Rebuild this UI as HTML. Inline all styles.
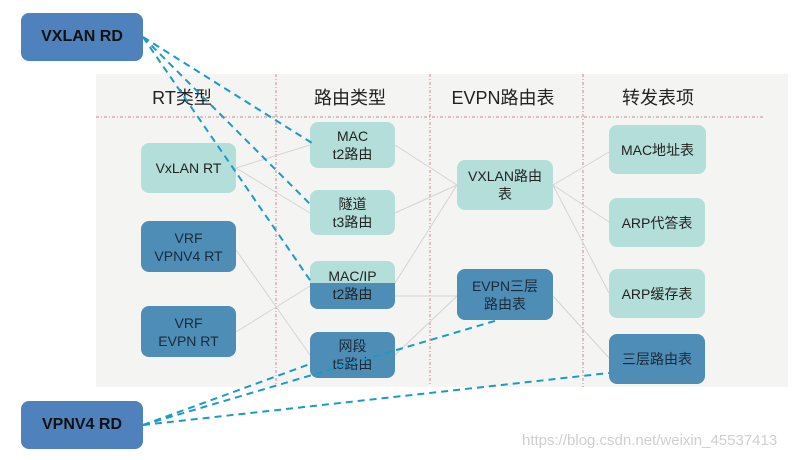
<!DOCTYPE html>
<html><head><meta charset="utf-8"><style>
body{margin:0;width:802px;height:460px;background:#fff;position:relative;overflow:hidden;font-family:"Liberation Sans","Noto Sans CJK SC",sans-serif}
.p{position:absolute;left:96px;top:74px;width:692px;height:313px;background:#f4f4f3}
.n{position:absolute;border-radius:8px;display:flex;align-items:center;justify-content:center;text-align:center;font-size:14px;line-height:18px;color:#222}
.l{background:#b4ded9}
.d{background:#4e8db5;color:#1a2a3a}
.h{position:absolute;top:84px;font-size:18px;color:#222;text-align:center;width:150px}
.rd{position:absolute;left:21px;width:122px;height:48px;border-radius:8px;background:#4f81bd;font-weight:bold;font-size:16px;color:#111;display:flex;align-items:center;justify-content:center}
</style></head><body>
<div class="p"></div>
<div class="h" style="left:107px">RT类型</div>
<div class="h" style="left:275px">路由类型</div>
<div class="h" style="left:428px">EVPN路由表</div>
<div class="h" style="left:583px">转发表项</div>
<svg style="position:absolute;left:0;top:0" width="802" height="460">
<g stroke="#c88" stroke-width="1" stroke-dasharray="3,2,1,2">
<line x1="96" y1="117" x2="765" y2="117"/>
<line x1="276" y1="74" x2="276" y2="385"/>
<line x1="430" y1="74" x2="430" y2="385"/>
<line x1="583" y1="74" x2="583" y2="387"/>
</g>
<g stroke="#d4d4d4" stroke-width="1">
<line x1="236" y1="168" x2="310" y2="145"/>
<line x1="236" y1="168" x2="310" y2="213"/>
<line x1="236" y1="250" x2="310" y2="355"/>
<line x1="236" y1="332" x2="310" y2="286"/>
<line x1="395" y1="145" x2="457" y2="185"/>
<line x1="395" y1="213" x2="457" y2="185"/>
<line x1="395" y1="283" x2="457" y2="185"/>
<line x1="395" y1="296" x2="457" y2="296"/>
<line x1="395" y1="355" x2="457" y2="296"/>
<line x1="553" y1="185" x2="609" y2="152"/>
<line x1="553" y1="185" x2="609" y2="222"/>
<line x1="553" y1="185" x2="609" y2="293"/>
<line x1="553" y1="296" x2="609" y2="358"/>
</g>
</svg>
<div class="n l" style="left:141px;top:143px;width:95px;height:50px">VxLAN RT</div>
<div class="n d" style="left:141px;top:221px;width:95px;height:51px">VRF<br>VPNV4 RT</div>
<div class="n d" style="left:141px;top:306px;width:95px;height:51px">VRF<br>EVPN RT</div>
<div class="n l" style="left:310px;top:122px;width:85px;height:46px">MAC<br>t2路由</div>
<div class="n l" style="left:310px;top:190px;width:85px;height:45px">隧道<br>t3路由</div>
<div class="n" style="left:310px;top:261px;width:85px;height:48px;background:linear-gradient(#b4ded9 0,#b4ded9 22px,#4e8db5 22px)">MAC/IP<br>t2路由</div>
<div class="n d" style="left:310px;top:332px;width:85px;height:46px">网段<br>t5路由</div>
<div class="n l" style="left:457px;top:160px;width:96px;height:50px">VXLAN路由<br>表</div>
<div class="n d" style="left:457px;top:269px;width:96px;height:51px">EVPN三层<br>路由表</div>
<div class="n l" style="left:609px;top:125px;width:97px;height:49px">MAC地址表</div>
<div class="n l" style="left:609px;top:198px;width:96px;height:49px">ARP代答表</div>
<div class="n l" style="left:609px;top:269px;width:96px;height:49px">ARP缓存表</div>
<div class="n d" style="left:609px;top:334px;width:96px;height:50px">三层路由表</div>
<div class="rd" style="top:13px">VXLAN RD</div>
<div class="rd" style="top:401px">VPNV4 RD</div>
<svg style="position:absolute;left:0;top:0" width="802" height="460">
<g stroke="#1a9bc6" stroke-width="2" stroke-dasharray="7,5" fill="none">
<line x1="143" y1="37" x2="312" y2="143"/>
<line x1="143" y1="37" x2="312" y2="206"/>
<line x1="143" y1="37" x2="312" y2="283"/>
<line x1="143" y1="425" x2="310" y2="364"/>
<line x1="143" y1="425" x2="498" y2="320"/>
<line x1="143" y1="425" x2="609" y2="373"/>
</g>
</svg>
<div style="position:absolute;left:522px;top:432px;font-size:15px;color:#cfcfcf">https://blog.csdn.net/weixin_45537413</div>
</body></html>
